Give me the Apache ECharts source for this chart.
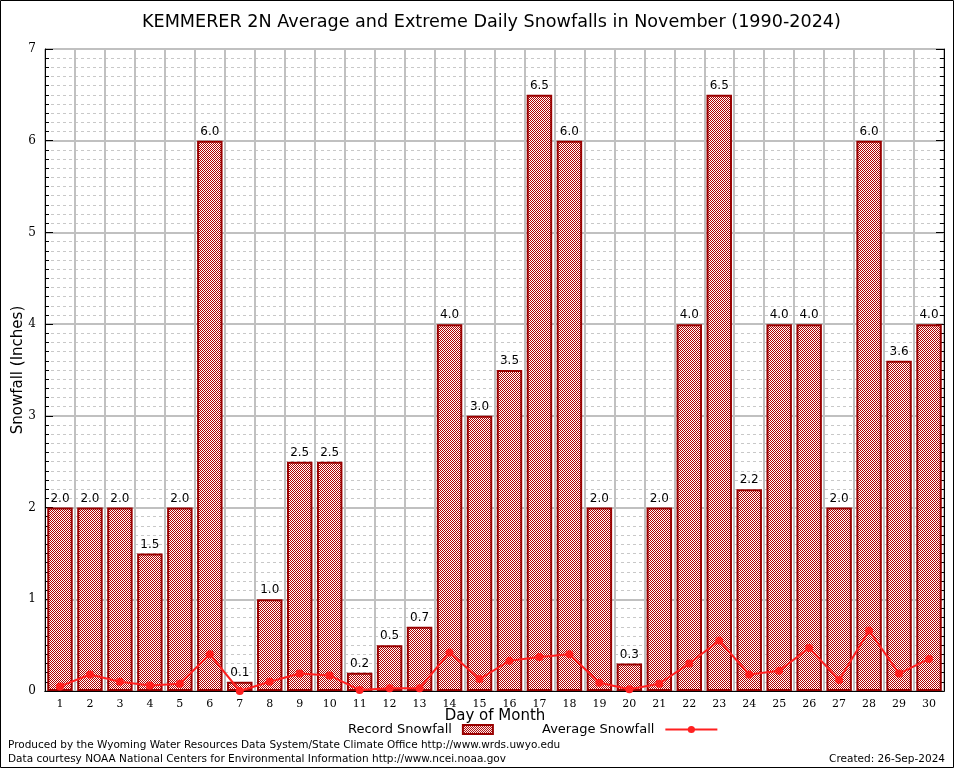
<!DOCTYPE html>
<html><head><meta charset="utf-8">
<script src="https://cdn.jsdelivr.net/npm/echarts@6/dist/echarts.min.js"></script>
<style>html,body{margin:0;padding:0;background:#fff}#c{width:954px;height:768px}</style>
</head><body><div id="c"></div>
<script>
const days = ['1','2','3','4','5','6','7','8','9','10','11','12','13','14','15','16','17','18','19','20','21','22','23','24','25','26','27','28','29','30'];
const recordSnowfall = [2.0,2.0,2.0,1.5,2.0,6.0,0.1,1.0,2.5,2.5,0.2,0.5,0.7,4.0,3.0,3.5,6.5,6.0,2.0,0.3,2.0,4.0,6.5,2.2,4.0,4.0,2.0,6.0,3.6,4.0];
const averageSnowfall = [0.05,0.18,0.10,0.06,0.08,0.40,0.00,0.10,0.19,0.17,0.01,0.03,0.03,0.42,0.13,0.33,0.37,0.40,0.09,0.02,0.08,0.30,0.55,0.18,0.22,0.47,0.12,0.66,0.19,0.35];
const yTicks = [0,1,2,3,4,5,6,7];

const pc = document.createElement('canvas');
pc.width = 2; pc.height = 2;
const pctx = pc.getContext('2d');
pctx.fillStyle = '#ffffff'; pctx.fillRect(0,0,2,2);
pctx.fillStyle = '#b00000'; pctx.fillRect(0,0,1,1); pctx.fillRect(1,1,1,1);
const pattern = {image: pc, repeat: 'repeat'};

const chart = echarts.init(document.getElementById('c'), null, {devicePixelRatio: 1});
const serif = 'DejaVu Serif';
const sans = 'DejaVu Sans';
const legendText = {fontFamily: sans, fontSize: 13, color: '#000', padding: [0, 6, 0, 0]};
chart.setOption({
  animation: false,
  backgroundColor: '#fff',
  title: {text: 'KEMMERER 2N Average and Extreme Daily Snowfalls in November (1990-2024)', left: 137, top: 8,
    textStyle: {fontFamily: sans, fontSize: 17.6, fontWeight: 'normal', color: '#000'}},
  grid: {left: 45, right: 10, top: 49, bottom: 77, outerBoundsMode: 'none', containLabel: false},
  legend: [
    {top: 718, left: 343, align: 'right', itemWidth: 30, itemHeight: 9, textStyle: legendText,
     data: [{name: 'Record Snowfall', icon: 'rect', itemStyle: {color: pattern, borderColor: '#990000', borderWidth: 2}}]},
    {top: 718, left: 537, align: 'right', itemWidth: 52, itemHeight: 9, textStyle: legendText,
     data: [{name: 'Average Snowfall'}]}
  ],
  xAxis: [{type: 'category', data: days, boundaryGap: true,
    axisLine: {lineStyle: {color: '#000', width: 1}},
    axisTick: {inside: true, length: 5, lineStyle: {color: '#000'}},
    axisLabel: {fontFamily: serif, fontSize: 11, color: '#000', margin: 8},
    splitLine: {show: true, lineStyle: {color: '#c0c0c0', width: 2}}},
   {type: 'category', data: days, position: 'top', boundaryGap: true,
    axisLine: {lineStyle: {color: '#000', width: 1}},
    axisTick: {inside: true, length: 5, lineStyle: {color: '#000'}},
    axisLabel: {show: false}}],
  yAxis: [{type: 'value', min: 0, max: 7, interval: 1,
    axisLine: {show: true, lineStyle: {color: '#000'}},
    axisTick: {show: true, inside: true, length: 8, lineStyle: {color: '#000'}},
    minorTick: {show: true, splitNumber: 10, length: 4, lineStyle: {color: '#000'}},
    axisLabel: {fontFamily: serif, fontSize: 12, color: '#000', margin: 9,
      formatter: v => yTicks.includes(v) ? String(v) : ''},
    splitLine: {show: true, lineStyle: {color: '#c0c0c0', width: 2}},
    minorSplitLine: {show: true, lineStyle: {color: '#c8c8c8', type: [3, 3], width: 1}}},
   {type: 'value', min: 0, max: 7, interval: 1, position: 'right',
    axisLine: {show: true, lineStyle: {color: '#000'}},
    axisTick: {show: true, inside: true, length: 8, lineStyle: {color: '#000'}},
    minorTick: {show: true, splitNumber: 10, length: 4, lineStyle: {color: '#000'}},
    axisLabel: {show: false}, splitLine: {show: false}}],
  series: [
    {name: 'Record Snowfall', type: 'bar', data: recordSnowfall, barWidth: '85%',
     itemStyle: {color: pattern, borderColor: '#990000', borderWidth: 2},
     label: {show: true, position: 'top', distance: 3, fontFamily: sans, fontSize: 12, color: '#000',
       formatter: p => p.value.toFixed(1)}},
    {name: 'Average Snowfall', type: 'line', data: averageSnowfall, symbol: 'circle', symbolSize: 8,
     lineStyle: {color: '#ff2020', width: 2}, itemStyle: {color: '#ff2020'}, z: 5}
  ],
  graphic: [
    {type: 'rect', shape: {x: 0.5, y: 0.5, width: 953, height: 767}, style: {fill: 'none', stroke: '#000', lineWidth: 1}, silent: true},
    {type: 'text', x: 18, y: 370, rotation: Math.PI / 2, style: {text: 'Snowfall (Inches)', fontFamily: sans, fontSize: 15, fill: '#000', align: 'center', verticalAlign: 'middle'}},
    {type: 'text', x: 495, y: 716, style: {text: 'Day of Month', fontFamily: sans, fontSize: 15, fill: '#000', align: 'center', verticalAlign: 'middle'}},
    {type: 'text', left: 8, top: 740, style: {text: 'Produced by the Wyoming Water Resources Data System/State Climate Office http://www.wrds.uwyo.edu', fontFamily: sans, fontSize: 10.5, fill: '#000'}},
    {type: 'text', left: 8, top: 754, style: {text: 'Data courtesy NOAA National Centers for Environmental Information http://www.ncei.noaa.gov', fontFamily: sans, fontSize: 10.5, fill: '#000'}},
    {type: 'text', right: 9, top: 754, style: {text: 'Created: 26-Sep-2024', fontFamily: sans, fontSize: 10.5, fill: '#000'}}
  ]
});
</script></body></html>
